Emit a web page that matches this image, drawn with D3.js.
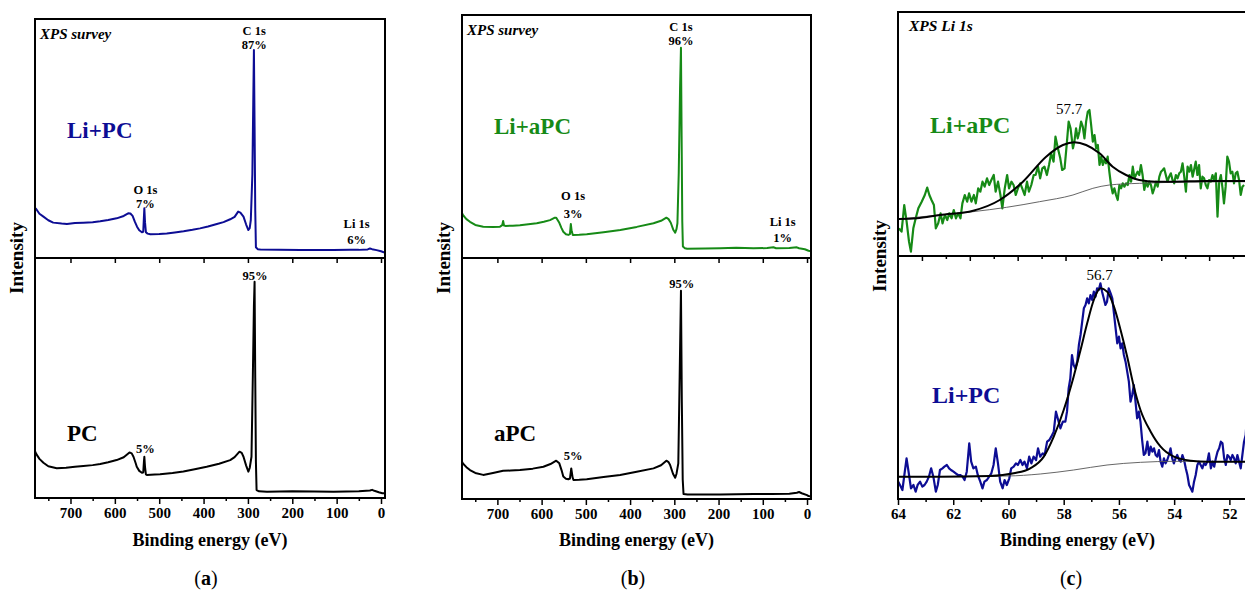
<!DOCTYPE html>
<html>
<head>
<meta charset="utf-8">
<script src="https://cdnjs.cloudflare.com/ajax/libs/d3/7.8.5/d3.min.js"></script>
<style>
  body { margin: 0; background: #fff; }
  svg text { font-family: "Liberation Serif", Tinos, "Times New Roman", Times, "DejaVu Serif", serif !important; }
</style>
</head>
<body>
<svg width="1245" height="596"></svg>
<script>
// ---- survey spectra: [binding energy (eV), intensity (% of sub-panel height)]
var liPC_survey = [[780,21],[777,20.4],[770,18.5],[761,17.3],[750,15.8],[739,14.8],[720,14.4],[708,14.2],[690,14.6],[671,14.8],[650,15.0],[633,15.4],[615,15.9],[596,16.6],[580,17.6],[570,18.7],[565,18.6],[560,17.6],[555,15.2],[550,13.1],[545,11.6],[539,10.8],[536,11.0],[534.5,17],[533.5,20.8],[532,15],[530,10.8],[526,10.2],[520,9.9],[500,10.0],[483,10.3],[465,10.7],[445,11.2],[425,11.8],[408,12.4],[390,13.2],[370,14.2],[355,15.0],[340,16.2],[330,17.2],[322,19.4],[317,19.0],[310,17.3],[304,14],[299,11.7],[296,12.5],[293.5,15.9],[290,35],[288,65],[286.5,87],[285,55],[283.5,20],[282,4.5],[278,3.7],[272,3.6],[230,3.4],[182,3.3],[140,3.3],[107,3.3],[70,3.4],[50,3.4],[30,3.6],[25,4.0],[20,3.7],[10,3.3],[0,2.8],[-6,2.4],[-9,2.3]];
var pc_survey = [[780,19.5],[777,18.3],[770,16.3],[761,14.7],[750,13.2],[731,12.4],[710,12.6],[690,13.0],[671,13.3],[650,13.7],[633,14.2],[615,14.9],[596,15.8],[580,17.0],[567,19.0],[562,18.6],[558,17.2],[553,14.5],[550.6,13.0],[545,11.3],[539,10.5],[536,10.6],[534.5,15],[533.5,17.2],[532,13],[530,9.8],[528,9.6],[510,9.8],[498,9.9],[470,10.4],[445.5,11.0],[420,12.0],[393,13.0],[365,14.3],[340,15.8],[330,17],[319,19.3],[314,18.8],[310,17.2],[304,13.5],[299,11.0],[296,12.5],[292,17.2],[289,50],[286.5,80],[285,90.1],[283.5,50],[282,15],[280.5,3.3],[275,2.8],[257,2.6],[200,2.8],[150,2.7],[107,2.6],[50,2.8],[25,3.1],[20,3.4],[15,3.0],[5,2.4],[-3,2.0],[-9,1.9]];
var liAPC_survey = [[780,18.5],[778,17.7],[770,16.0],[762,14.9],[750,13.6],[732,12.9],[710,12.8],[694,12.9],[689,13.5],[687,15.2],[685,13.4],[682,13.2],[665,13.3],[649,13.5],[630,13.9],[611,14.3],[595,14.9],[581,15.6],[570,16.6],[567,16.6],[560,14.5],[555,12.3],[551,10.8],[545,9.8],[539.5,9.5],[536,9.8],[534,14.0],[532,11],[529.5,9.5],[515,9.6],[498,9.8],[460,10.6],[422,11.5],[385,12.8],[347,14.3],[330,15.3],[318,16.6],[313,16],[308,14.5],[302,11.5],[298,10.4],[295,12],[293,14.3],[290,35],[287,70],[285,86.5],[283.5,50],[282,15],[280.6,4.7],[276,4.0],[271,3.8],[230,3.9],[196,4.0],[160,4.2],[121,4.0],[90,4.1],[76,4.4],[70,4.0],[40,4.1],[23,4.4],[18,4.0],[5,3.6],[-3.5,3.0],[-9,2.8]];
var aPC_survey = [[780,15.5],[778,14.8],[770,13.2],[762,12.0],[750,10.8],[732,10.0],[710,10.8],[687,11.7],[670,11.8],[649,12.0],[620,12.6],[596,13.4],[580,14.5],[567,15.9],[560,14.8],[555,12.0],[551,9.3],[545,8.4],[539.5,8.2],[536,8.5],[533,12.7],[530,9],[528,7.9],[515,8.0],[498,8.2],[460,9.1],[422.5,10.0],[385,11.3],[347,12.7],[330,14],[318,15.9],[313,15.3],[309.5,14.1],[303,10.5],[298,8.8],[295,10.5],[291,14.8],[288,50],[285,86.4],[283,40],[281,8],[279.2,2.1],[270,1.9],[230,1.9],[196,1.9],[160,2.0],[121,2.1],[80,2.1],[40,2.2],[23,2.6],[18,2.9],[12,2.4],[0,1.6],[-3.5,1.2],[-9,1.1]];

// ---- Li 1s high resolution: [binding energy (eV), counts (a.u.)]
var liAPC_li1s = [[64.96,83],[64.85,73],[64.74,153],[64.64,103],[64.54,43],[64.46,13],[64.36,83],[64.26,113],[64.15,143],[64.01,163],[63.88,183],[63.78,205],[63.69,183],[63.60,168],[63.50,153],[63.42,83],[63.32,98],[63.22,128],[63.14,98],[63.04,123],[62.94,108],[62.86,128],[62.76,113],[62.67,138],[62.58,113],[62.49,128],[62.39,113],[62.31,158],[62.21,183],[62.11,163],[62.03,188],[61.93,163],[61.83,183],[61.75,158],[61.65,203],[61.56,193],[61.47,223],[61.38,208],[61.28,233],[61.19,213],[61.10,228],[61.00,243],[60.92,193],[60.82,223],[60.72,183],[60.64,143],[60.54,203],[60.44,243],[60.36,203],[60.26,223],[60.17,213],[60.08,183],[59.99,203],[59.89,218],[59.81,203],[59.71,183],[59.61,223],[59.53,193],[59.43,213],[59.33,243],[59.25,243],[59.15,268],[59.06,233],[58.97,263],[58.88,268],[58.78,243],[58.69,273],[58.60,308],[58.50,283],[58.42,358],[58.32,323],[58.22,293],[58.14,258],
  [58.04,263],[57.94,343],[57.87,403],[57.79,383],[57.69,323],[57.63,343],[57.56,383],[57.49,353],[57.42,373],[57.35,403],[57.28,388],[57.21,353],[57.14,403],[57.07,433],[57.00,438],[56.93,393],[56.86,343],[56.79,363],[56.72,323],[56.65,333],[56.58,273],[56.51,298],[56.44,273],[56.38,288],[56.31,278],[56.24,298],[56.17,253],[56.10,213],[56.03,188],[55.96,203],[55.89,183],[55.82,168],[55.75,213],[55.68,203],[55.61,218],[55.54,208],[55.47,218],[55.40,213],[55.33,243],[55.26,223],[55.19,268],[55.12,233],[55.06,243],[54.99,253],[54.92,243],[54.85,273],[54.78,243],[54.71,198],[54.64,223],[54.57,208],[54.50,223],[54.43,213],[54.36,188],[54.29,203],[54.22,223],[54.15,208],[54.08,238],[54.01,253],[53.94,258],[53.88,263],[53.81,243],[53.74,223],[53.67,238],[53.60,248],[53.53,228],[53.46,218],[53.39,243],[53.32,233],[53.25,248],[53.18,253],[53.11,278],[53.04,238],[52.97,193],[52.90,268],[52.83,253],[52.76,273],[52.69,238],[52.63,258],[52.56,283],[52.49,243],[52.42,273],[52.35,203],[52.28,238],[52.21,233],[52.14,213],[52.07,203],[52.00,228],[51.93,223],[51.86,243],[51.79,228],[51.72,248],[51.65,118],[51.58,223],[51.51,243],[51.44,203],[51.38,158],[51.31,208],[51.24,298],[51.17,283],[51.10,248],[51.03,253],[50.96,218],[50.89,248],[50.82,253],[50.75,228],[50.68,183],[50.61,208],[50.54,213]];
var liAPC_fit = [[65.0,111],[64.22,113],[63.25,123],[61.86,136],[60.75,168],[59.78,223],[58.81,298],[58.11,333],[57.63,341],[57.14,333],[56.58,308],[56.03,268],[55.47,243],[54.92,228],[54.22,223],[53.53,223],[52.14,225],[50.3,225]];
var liAPC_bg = [[65.0,111],[63.25,123],[61.86,133],[60.47,146],[59.08,163],[57.69,183],[56.86,203],[56.17,213],[54.92,218],[53.53,221],[50.3,223]];

var liPC_li1s = [[63.99,52],[63.93,42],[63.84,27],[63.77,72],[63.69,122],[63.60,72],[63.53,32],[63.44,42],[63.36,22],[63.29,42],[63.20,52],[63.12,37],[63.04,42],[62.96,52],[62.88,67],[62.80,92],[62.72,67],[62.63,22],[62.56,42],[62.48,87],[62.39,92],[62.32,97],[62.23,102],[62.15,92],[62.08,87],[61.99,82],[61.91,77],[61.83,72],[61.75,72],[61.66,67],[61.59,57],[61.51,82],[61.42,167],[61.35,112],[61.27,92],[61.18,97],[61.11,72],[61.02,52],[60.94,32],[60.87,52],[60.78,57],[60.70,67],[60.62,77],[60.54,102],[60.46,152],[60.38,107],[60.30,52],[60.21,32],[60.14,57],[60.06,42],[59.97,62],[59.90,92],[59.81,97],[59.73,107],[59.66,102],[59.57,117],[59.49,102],[59.42,112],[59.33,92],[59.25,127],[59.17,107],[59.09,127],[59.00,117],[58.93,152],[58.85,127],[58.76,137],[58.69,132],[58.60,172],[58.52,177],[58.45,187],[58.36,202],[58.28,262],[58.20,237],[58.12,212],[58.03,232],
  [57.94,232],[57.88,262],[57.82,332],[57.76,362],[57.70,432],[57.64,402],[57.58,392],[57.51,412],[57.45,462],[57.39,492],[57.33,532],[57.27,572],[57.21,582],[57.15,602],[57.09,587],[57.03,612],[56.97,597],[56.91,622],[56.85,607],[56.79,632],[56.73,627],[56.67,647],[56.61,622],[56.55,602],[56.49,582],[56.43,592],[56.37,632],[56.30,617],[56.24,602],[56.18,557],[56.12,512],[56.06,467],[56.00,487],[55.94,452],[55.88,467],[55.82,432],[55.76,412],[55.70,382],[55.64,352],[55.58,292],[55.52,312],[55.46,342],[55.40,292],[55.34,242],[55.28,262],[55.22,232],[55.16,177],[55.10,132],[55.04,137],[54.97,172],[54.91,132],[54.85,157],[54.79,142],[54.73,152],[54.67,132],[54.61,127],[54.55,147],[54.49,112],[54.43,97],[54.37,122],[54.31,107],[54.25,117],[54.19,132],[54.13,152],[54.07,122],[54.01,107],[53.95,122],[53.89,132],[53.82,117],[53.76,112],[53.70,132],[53.64,117],[53.58,92],[53.52,72],[53.46,42],[53.40,32],[53.34,22],[53.28,52],[53.22,72],[53.16,102],[53.10,112],[53.04,102],[52.98,92],[52.92,107],[52.86,102],[52.80,112],[52.74,137],[52.67,92],[52.61,112],[52.55,97],[52.49,122],[52.43,142],[52.37,152],[52.31,172],[52.25,167],[52.19,122],[52.13,102],[52.07,132],[52.01,127],[51.95,117],[51.89,132],[51.83,122],[51.77,107],[51.71,132],[51.65,112],[51.59,92],[51.53,132],[51.47,172],[51.41,192],[51.38,230]];
var liPC_fit = [[64.0,67],[62.48,67],[60.66,69],[59.81,77],[59.21,92],[58.72,127],[58.36,187],[58.0,267],[57.64,367],[57.39,447],[57.15,527],[56.91,597],[56.67,632],[56.43,622],[56.18,577],[55.94,507],[55.70,427],[55.46,337],[55.22,267],[54.85,202],[54.49,157],[54.01,127],[53.40,115],[52.80,112],[51.0,112]];
var liPC_bg = [[64.0,67],[60.06,69],[58.85,75],[57.64,87],[56.43,102],[55.22,110],[54.01,113],[51.0,112]];

// ---- axes
var surveyMajor = [700, 600, 500, 400, 300, 200, 100, 0];
var surveyMinor = [750, 650, 550, 450, 350, 250, 150, 50];
var li1sMajor = [64, 62, 60, 58, 56, 54, 52];
var li1sMinor = [63, 61, 59, 57, 55, 53, 51];

var SERIF = '"Liberation Serif", Tinos, "Times New Roman", Times, "DejaVu Serif", serif';
var blue = "#0d0d94", green = "#168a16";
var svg = d3.select("svg");
var defs = svg.append("defs");

function frame(g, p) {
  g.append("rect").attr("x", p.x0).attr("y", p.top)
    .attr("width", p.x1 - p.x0).attr("height", p.bottom - p.top)
    .attr("fill", "none").attr("stroke", "#000").attr("stroke-width", 2);
  g.append("line").attr("x1", p.x0).attr("x2", p.x1)
    .attr("y1", p.mid).attr("y2", p.mid)
    .attr("stroke", "#000").attr("stroke-width", 2);
}

function clip(id, p, y0, y1) {
  defs.append("clipPath").attr("id", id).append("rect")
    .attr("x", p.x0 + 1).attr("y", y0 + 1)
    .attr("width", p.x1 - p.x0 - 2).attr("height", y1 - y0 - 2);
  return "url(#" + id + ")";
}

function ticks(g, x, y, vals, size, labels) {
  var ax = d3.axisBottom(x).tickValues(vals).tickSize(size).tickPadding(3)
    .tickFormat(labels ? d3.format("d") : "");
  var a = g.append("g").attr("transform", "translate(0," + y + ")").call(ax)
    .attr("font-family", SERIF);
  a.select(".domain").remove();
  a.selectAll("line").attr("stroke", "#000").attr("stroke-width", 1.5);
  a.selectAll("text").attr("fill", "#000").style("font-size", "15px")
    .style("font-weight", "bold");
}

function txt(g, s, x, y, opt) {
  opt = opt || {};
  return g.append("text").attr("x", x).attr("y", y).text(s)
    .attr("text-anchor", opt.anchor || "middle")
    .attr("fill", opt.color || "#000")
    .style("font-size", (opt.size || 13) + "px")
    .style("font-weight", opt.weight || "bold")
    .style("font-style", opt.style || "normal");
}

function common(g, p, letter) {
  txt(g, "Binding energy (eV)", (p.x0 + p.x1) / 2, 546, {size: 18});
  txt(g, "Intensity", 0, 0, {size: 19})
    .attr("transform", "translate(" + (p.x0 - 12) + "," + p.mid + ") rotate(-90)");
  var t = g.append("text").attr("x", p.cap).attr("y", 585)
    .attr("text-anchor", "middle").style("font-size", "20px");
  t.append("tspan").text("(");
  t.append("tspan").text(letter).style("font-weight", "bold");
  t.append("tspan").text(")");
}

function surveyPanel(p, topData, topColor, botData, lab) {
  var g = svg.append("g");
  var x = d3.scaleLinear().domain([780, -9]).range([p.x0, p.x1]);
  var yT = d3.scaleLinear().domain([0, 100]).range([p.mid, p.top]);
  var yB = d3.scaleLinear().domain([0, 100]).range([p.bottom, p.mid]);
  var lineT = d3.line().x(function(d) { return x(d[0]); }).y(function(d) { return yT(d[1]); });
  var lineB = d3.line().x(function(d) { return x(d[0]); }).y(function(d) { return yB(d[1]); });

  g.append("path").datum(topData).attr("d", lineT)
    .attr("clip-path", clip(p.id + "t", p, p.top, p.mid))
    .attr("fill", "none").attr("stroke", topColor).attr("stroke-width", 2).attr("stroke-linejoin", "round");
  g.append("path").datum(botData).attr("d", lineB)
    .attr("clip-path", clip(p.id + "b", p, p.mid, p.bottom))
    .attr("fill", "none").attr("stroke", "#000").attr("stroke-width", 2).attr("stroke-linejoin", "round");

  frame(g, p);
  ticks(g, x, p.bottom, surveyMajor, 6, true);
  ticks(g, x, p.bottom, surveyMinor, 3, false);
  ticks(g, x, p.mid, surveyMajor, 5, false);

  txt(g, "XPS survey", p.x0 + 5, p.top + 20, {anchor: "start", size: 15, style: "italic"});
  txt(g, "C 1s", x(lab.c), lab.cy, {size: 12.5});
  txt(g, lab.cPct, x(lab.c), lab.cy + 14, {size: 12.5});
  txt(g, "O 1s", x(lab.o), lab.oy, {size: 12.5});
  txt(g, lab.oPct, x(lab.o), lab.oy + lab.gap, {size: 12.5});
  txt(g, "Li 1s", x(lab.li), lab.liy, {size: 12.5});
  txt(g, lab.liPct, x(lab.li), lab.liy + 16, {size: 12.5});
  txt(g, lab.c2Pct, x(lab.c2), lab.c2y, {size: 12.5});
  txt(g, lab.o2Pct, x(lab.o), lab.o2y, {size: 12.5});
  txt(g, lab.name, p.x0 + 32, p.top + 119, {anchor: "start", size: 23, color: topColor});
  txt(g, lab.name2, p.x0 + 32, 441, {anchor: "start", size: 23});
  common(g, p, lab.letter);
}

surveyPanel({id: "a", x0: 35, x1: 385, top: 19, mid: 258, bottom: 498, cap: 206},
  liPC_survey, blue, pc_survey,
  {c: 286, cy: 34.5, cPct: "87%", o: 531, oy: 193.5, gap: 14, oPct: "7%", li: 55, liy: 227.5, liPct: "6%",
   c2: 284, c2y: 279.5, c2Pct: "95%", o2y: 452.5, o2Pct: "5%", name: "Li+PC", name2: "PC", letter: "a"});

surveyPanel({id: "b", x0: 462, x1: 811, top: 15, mid: 258, bottom: 499, cap: 633},
  liAPC_survey, green, aPC_survey,
  {c: 285, cy: 30.5, cPct: "96%", o: 529, oy: 199.5, gap: 18, oPct: "3%", li: 55, liy: 225.5, liPct: "1%",
   c2: 283, c2y: 287.5, c2Pct: "95%", o2y: 459.5, o2Pct: "5%", name: "Li+aPC", name2: "aPC", letter: "b"});

// ---- panel (c): Li 1s
(function() {
  var p = {id: "c", x0: 898, x1: 1257, top: 12, mid: 256, bottom: 499, cap: 1071};
  var g = svg.append("g");
  var xT = d3.scaleLinear().domain([65, 50]).range([p.x0, p.x1]);
  var xB = d3.scaleLinear().domain([64, 51]).range([p.x0, p.x1]);
  var yT = d3.scaleLinear().domain([0, 732]).range([p.mid, p.top]);
  var yB = d3.scaleLinear().domain([0, 729]).range([p.bottom, p.mid]);
  var lineT = d3.line().x(function(d) { return xT(d[0]); }).y(function(d) { return yT(d[1]); });
  var lineB = d3.line().x(function(d) { return xB(d[0]); }).y(function(d) { return yB(d[1]); });
  var smoothT = d3.line().curve(d3.curveMonotoneX).x(function(d) { return xT(d[0]); }).y(function(d) { return yT(d[1]); });
  var smoothB = d3.line().curve(d3.curveMonotoneX).x(function(d) { return xB(d[0]); }).y(function(d) { return yB(d[1]); });
  var cT = clip("ct", p, p.top, p.mid), cB = clip("cb", p, p.mid, p.bottom);

  g.append("path").datum(liAPC_li1s).attr("d", lineT).attr("clip-path", cT)
    .attr("fill", "none").attr("stroke", green).attr("stroke-width", 2.2).attr("stroke-linejoin", "round");
  g.append("path").datum(liAPC_bg).attr("d", smoothT).attr("clip-path", cT)
    .attr("fill", "none").attr("stroke", "#555").attr("stroke-width", 0.9);
  g.append("path").datum(liAPC_fit).attr("d", smoothT).attr("clip-path", cT)
    .attr("fill", "none").attr("stroke", "#000").attr("stroke-width", 2);

  g.append("path").datum(liPC_li1s).attr("d", lineB).attr("clip-path", cB)
    .attr("fill", "none").attr("stroke", blue).attr("stroke-width", 2.2).attr("stroke-linejoin", "round");
  g.append("path").datum(liPC_bg).attr("d", smoothB).attr("clip-path", cB)
    .attr("fill", "none").attr("stroke", "#555").attr("stroke-width", 0.9);
  g.append("path").datum(liPC_fit).attr("d", smoothB).attr("clip-path", cB)
    .attr("fill", "none").attr("stroke", "#000").attr("stroke-width", 2);

  frame(g, p);
  ticks(g, xB, p.bottom, li1sMajor, 6, true);
  ticks(g, xB, p.bottom, li1sMinor, 3, false);
  ticks(g, xT, p.mid, li1sMajor, 5, false);
  ticks(g, xT, p.mid, li1sMinor, 3, false);

  txt(g, "XPS Li 1s", p.x0 + 11, 31, {anchor: "start", size: 15.5, style: "italic"});
  txt(g, "57.7", xT(57.85), 114, {size: 15, weight: "normal"});
  txt(g, "56.7", xB(56.7), 280, {size: 15, weight: "normal"});
  txt(g, "Li+aPC", p.x0 + 32, 133, {anchor: "start", size: 24, color: green});
  txt(g, "Li+PC", p.x0 + 34, 403, {anchor: "start", size: 24, color: blue});
  common(g, p, "c");
})();
</script>
</body>
</html>
